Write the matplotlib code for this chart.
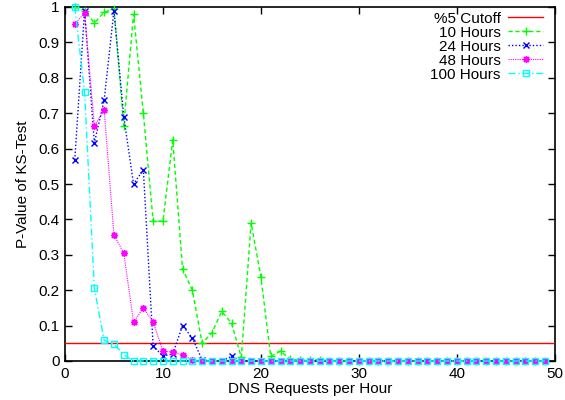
import matplotlib
matplotlib.use('Agg')
import matplotlib.pyplot as plt
import numpy as np

plt.rcParams['font.family'] = ['Liberation Sans', 'DejaVu Sans']

# requests per hour, 1..49
x = np.arange(1, 50)

# p-values; tail values are ~0
h10_head = [1.0, 0.99, 0.955, 0.985, 0.995, 0.665, 0.98, 0.70, 0.395, 0.395,
            0.625, 0.26, 0.20, 0.05, 0.08, 0.14, 0.107, 0.01, 0.39, 0.237,
            0.013, 0.028, 0.005, 0.002, 0.002, 0.004]
h24_head = [0.568, 0.99, 0.616, 0.737, 0.99, 0.69, 0.50, 0.54, 0.042, 0.014,
            0.02, 0.10, 0.065, 0.003, 0.0, 0.0, 0.013]
h48_head = [0.952, 0.983, 0.664, 0.709, 0.356, 0.305, 0.11, 0.15, 0.11, 0.028,
            0.025, 0.017, 0.003]
h100_head = [1.0, 0.76, 0.205, 0.058, 0.048, 0.018]


def pad(vals, n=49):
    return np.array(vals + [0.0] * (n - len(vals)))


h10 = pad(h10_head)
h24 = pad(h24_head)
h48 = pad(h48_head)
h100 = pad(h100_head)

cutoff = 0.05

fig = plt.figure(figsize=(5.65, 4.0), dpi=100)
ax = fig.add_axes([0.115, 0.0975, 0.867, 0.885])

ax.plot([0, 50], [cutoff, cutoff], color='#ff0000', lw=1, label='%5 Cutoff')
ax.plot(x, h10, color='#00ff00', ls=(0, (3, 2)), lw=1, marker='+', ms=6,
        mew=1, label='10 Hours', clip_on=False)
ax.plot(x, h24, color='#0000ff', ls=(0, (1, 1.5)), lw=1, marker='x', ms=5,
        mew=1, label='24 Hours', clip_on=False)
ax.plot(x, h48, color='#ff00ff', ls=(0, (1, 1)), lw=0.8, marker=(8, 2, 0),
        ms=5, mew=1, label='48 Hours', clip_on=False)
ax.plot(x, h100, color='#00ffff', ls=(0, (5, 2, 1, 2)), lw=1, marker='s',
        ms=5, mfc='none', mew=1, label='100 Hours', clip_on=False)

ax.set_xlim(0, 50)
ax.set_ylim(0, 1)
ax.set_xticks(np.arange(0, 51, 10))
ax.set_yticks(np.arange(0, 1.01, 0.1))
ax.set_yticklabels(['0', '0.1', '0.2', '0.3', '0.4', '0.5', '0.6', '0.7',
                    '0.8', '0.9', '1'])
ax.tick_params(direction='in', top=True, right=True, length=5, width=1,
               labelsize=11, pad=4)
for s in ax.spines.values():
    s.set_linewidth(1.2)
    s.set_zorder(0.5)

ax.set_xlabel('DNS Requests per Hour', fontsize=11, labelpad=1)
ax.set_ylabel('P-Value of KS-Test', fontsize=11, labelpad=6)

ax.legend(loc='upper right', bbox_to_anchor=(0.986, 1.0), markerfirst=False,
          frameon=False, fontsize=11, handlelength=2.3, labelspacing=0.0,
          borderaxespad=0.0, borderpad=0.3, handletextpad=0.5)

fig.savefig('out.png', dpi=100)
